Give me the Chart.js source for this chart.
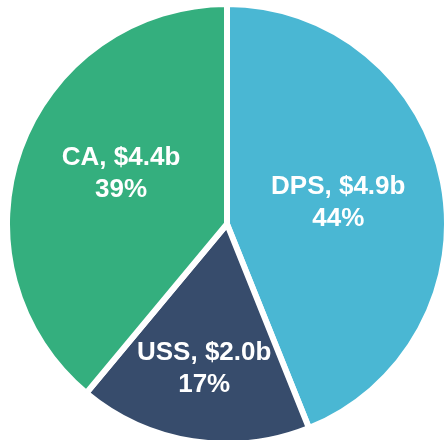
<!DOCTYPE html>
<html>
<head>
<meta charset="utf-8">
<script src="https://cdn.jsdelivr.net/npm/chart.js@4/dist/chart.umd.min.js"></script>
<style>
  html, body { margin: 0; padding: 0; background: #fff; overflow: hidden; width: 445px; height: 440px; }
  #wrap { position: absolute; left: 4px; top: 1px; width: 446px; height: 446px; }
</style>
</head>
<body>
<div id="wrap"><canvas id="c"></canvas></div>
<script>
const categories = ["DPS", "USS", "CA"];
const values = [4.95, 1.93, 4.39];
const valueLabels = ["$4.9b", "$2.0b", "$4.4b"];
const percentLabels = ["44%", "17%", "39%"];
const colors = ["#4AB7D3", "#374C6C", "#34AF7E"];

const labelPlugin = {
  id: 'sliceLabels',
  afterDatasetsDraw(chart, args, opts) {
    const ctx = chart.ctx;
    const meta = chart.getDatasetMeta(0);
    ctx.save();
    ctx.fillStyle = '#ffffff';
    ctx.font = 'bold 26px "Liberation Sans", Arial, sans-serif';
    ctx.textAlign = 'center';
    ctx.textBaseline = 'middle';
    meta.data.forEach((arc, i) => {
      const p = arc.getProps(['x', 'y', 'startAngle', 'endAngle', 'outerRadius'], true);
      const mid = (p.startAngle + p.endAngle) / 2 + opts.angleShift[i] * Math.PI / 180;
      const r = p.outerRadius * opts.radiusFactor[i];
      const cx = p.x + Math.cos(mid) * r;
      const cy = p.y + Math.sin(mid) * r;
      const lh = 32;
      ctx.fillText(categories[i] + ', ' + valueLabels[i], cx, cy - lh / 2);
      ctx.fillText(percentLabels[i], cx, cy + lh / 2);
    });
    ctx.restore();
  }
};

new Chart(document.getElementById('c'), {
  type: 'pie',
  data: {
    labels: categories,
    datasets: [{
      data: values,
      backgroundColor: colors,
      borderColor: '#ffffff',
      borderWidth: 6,
      hoverOffset: 0
    }]
  },
  options: {
    responsive: true,
    maintainAspectRatio: false,
    animation: false,
    layout: { padding: 0 },
    plugins: {
      legend: { display: false },
      tooltip: { enabled: false },
      sliceLabels: { radiusFactor: [0.515, 0.667, 0.533], angleShift: [0, 0, 5.5] }
    }
  },
  plugins: [labelPlugin]
});
</script>
</body>
</html>
